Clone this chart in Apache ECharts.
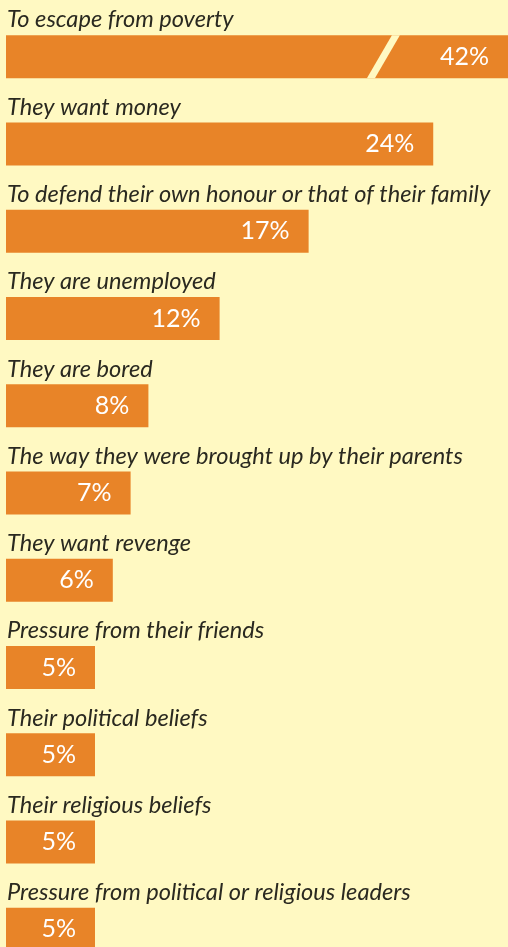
<!DOCTYPE html>
<html>
<head>
<meta charset="utf-8">
<script src="https://cdn.jsdelivr.net/npm/echarts@6/dist/echarts.min.js"></script>
<style>
  html, body { margin: 0; padding: 0; background: #FFF9C2; }
  #chart { width: 508px; height: 947px; }
</style>
</head>
<body>
<div id="chart"></div>
<script>
// Reasons given, top to bottom
const reasons = [
  'To escape from poverty',
  'They want money',
  'To defend their own honour or that of their family',
  'They are unemployed',
  'They are bored',
  'The way they were brought up by their parents',
  'They want revenge',
  'Pressure from their friends',
  'Their political beliefs',
  'Their religious beliefs',
  'Pressure from political or religious leaders'
];

// Share of respondents (%)
const shares = [42, 24, 17, 12, 8, 7, 6, 5, 5, 5, 5];

// Visible value range; the longest bar runs past it and gets a cut mark
const axisMin = 0;
const axisMax = 28.2;
const cutValue = 21.2;

const BG = '#FFF9C2';
const BAR = '#E88428';

const chart = echarts.init(document.getElementById('chart'), null, { renderer: 'canvas' });

chart.setOption({
  backgroundColor: BG,
  animation: false,
  // the plot runs a little past the bottom edge, so the last bar is cropped
  grid: { left: 6, right: 0, top: 13, height: 960, containLabel: false, outerBoundsMode: 'none' },
  xAxis: {
    type: 'value',
    min: axisMin,
    max: axisMax,
    show: false
  },
  yAxis: {
    type: 'category',
    data: reasons,
    inverse: true,
    axisLine: { show: false },
    axisTick: { show: false },
    splitLine: { show: false },
    axisLabel: {
      inside: true,
      margin: 1,
      align: 'left',
      verticalAlign: 'bottom',
      padding: [0, 0, 25, 0],
      fontFamily: 'Lato',
      fontStyle: 'italic',
      fontWeight: 400,
      fontSize: 23.6,
      lineHeight: 23.6,
      color: '#2a2920'
    },
    z: 10
  },
  series: [{
    type: 'bar',
    data: shares,
    barWidth: 43,
    clip: true,
    itemStyle: { color: BAR },
    label: {
      show: true,
      position: 'insideRight',
      distance: 19,
      formatter: '{c}%',
      color: '#ffffff',
      fontFamily: 'Lato',
      fontWeight: 400,
      fontSize: 25
    }
  }]
});

// Slanted cut across the longest bar
const cutCenter = chart.convertToPixel({ gridIndex: 0 }, [cutValue, 0]);
const halfBar = 21.5, slant = 12.5, halfGap = 4;
chart.setOption({
  graphic: [{
    type: 'polygon',
    z: 100,
    shape: {
      points: [
        [cutCenter[0] + slant - halfGap, cutCenter[1] - halfBar],
        [cutCenter[0] + slant + halfGap, cutCenter[1] - halfBar],
        [cutCenter[0] - slant + halfGap, cutCenter[1] + halfBar],
        [cutCenter[0] - slant - halfGap, cutCenter[1] + halfBar]
      ]
    },
    style: { fill: BG }
  }]
});
</script>
</body>
</html>
